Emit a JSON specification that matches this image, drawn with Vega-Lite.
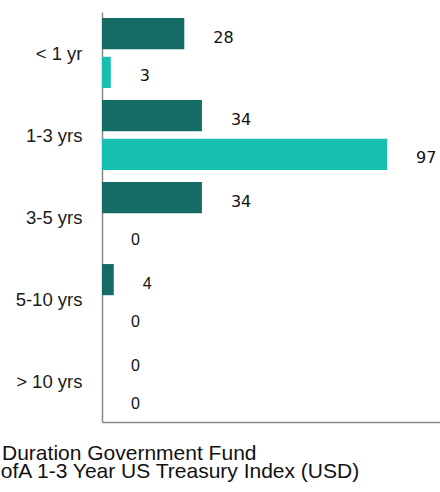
{
  "$schema": "https://vega.github.io/schema/vega-lite/v6.json",
  "autosize": {"type": "none"},
  "padding": {"left": 102, "top": 12, "right": 0, "bottom": 70},
  "width": 338,
  "height": 410,
  "background": "white",
  "config": {
    "view": {"stroke": null},
    "legend": {
      "title": null,
      "orient": "none",
      "padding": 0,
      "symbolType": "square",
      "symbolSize": 100,
      "labelOffset": 4,
      "labelFont": "Liberation Sans",
      "labelFontSize": 21,
      "labelColor": "#111111",
      "labelLimit": 0
    }
  },
  "data": {
    "values": [
      {"category": "< 1 yr", "series": "Short Duration Government Fund", "value": 28},
      {"category": "< 1 yr", "series": "ICE BofA 1-3 Year US Treasury Index (USD)", "value": 3},
      {"category": "1-3 yrs", "series": "Short Duration Government Fund", "value": 34},
      {"category": "1-3 yrs", "series": "ICE BofA 1-3 Year US Treasury Index (USD)", "value": 97},
      {"category": "3-5 yrs", "series": "Short Duration Government Fund", "value": 34},
      {"category": "3-5 yrs", "series": "ICE BofA 1-3 Year US Treasury Index (USD)", "value": 0},
      {"category": "5-10 yrs", "series": "Short Duration Government Fund", "value": 4},
      {"category": "5-10 yrs", "series": "ICE BofA 1-3 Year US Treasury Index (USD)", "value": 0},
      {"category": "> 10 yrs", "series": "Short Duration Government Fund", "value": 0},
      {"category": "> 10 yrs", "series": "ICE BofA 1-3 Year US Treasury Index (USD)", "value": 0}
    ]
  },
  "encoding": {
    "y": {
      "field": "category",
      "type": "nominal",
      "sort": ["< 1 yr", "1-3 yrs", "3-5 yrs", "5-10 yrs", "> 10 yrs"],
      "scale": {"paddingInner": 0, "paddingOuter": 0},
      "axis": {
        "title": null,
        "ticks": false,
        "labelPadding": 20,
        "labelFont": "Liberation Sans",
        "labelFontSize": 18.5,
        "labelColor": "#1a1a1a",
        "labelOffset": 1,
        "domainColor": "#888888",
        "domainWidth": 1.5
      }
    },
    "yOffset": {
      "field": "series",
      "type": "nominal",
      "sort": ["Short Duration Government Fund", "ICE BofA 1-3 Year US Treasury Index (USD)"],
      "scale": {"domain": ["Short Duration Government Fund", "ICE BofA 1-3 Year US Treasury Index (USD)"], "paddingInner": 0.195, "paddingOuter": 0.156}
    },
    "x": {
      "field": "value",
      "type": "quantitative",
      "scale": {"domain": [0, 115], "nice": false},
      "axis": {
        "title": null,
        "labels": false,
        "ticks": false,
        "grid": false,
        "domainColor": "#888888",
        "domainWidth": 1.5
      }
    }
  },
  "layer": [
    {
      "transform": [{"filter": "datum.series == 'Short Duration Government Fund'"}],
      "mark": {"type": "bar"},
      "encoding": {
        "color": {
          "field": "series",
          "type": "nominal",
          "scale": {"domain": ["Short Duration Government Fund"], "range": ["#146c64"]},
          "legend": {"legendX": -181, "legendY": 431.5}
        }
      }
    },
    {
      "transform": [{"filter": "datum.series == 'ICE BofA 1-3 Year US Treasury Index (USD)'"}],
      "mark": {"type": "bar"},
      "encoding": {
        "color": {
          "field": "series",
          "type": "nominal",
          "scale": {"domain": ["ICE BofA 1-3 Year US Treasury Index (USD)"], "range": ["#17bfb0"]},
          "legend": {"legendX": -181, "legendY": 449.5}
        }
      }
    },
    {
      "transform": [
        {"filter": "indexof(['< 1 yr', '1-3 yrs'], datum.category) >= 0 || (datum.category == '3-5 yrs' && datum.series == 'Short Duration Government Fund')"}
      ],
      "mark": {"type": "text", "align": "left", "baseline": "middle", "dx": 29, "dy": 4, "font": "DejaVu Sans", "fontSize": 16, "color": "#111111"},
      "encoding": {"text": {"field": "value", "type": "quantitative"}}
    },
    {
      "transform": [
        {"filter": "!(indexof(['< 1 yr', '1-3 yrs'], datum.category) >= 0 || (datum.category == '3-5 yrs' && datum.series == 'Short Duration Government Fund'))"}
      ],
      "mark": {"type": "text", "align": "left", "baseline": "middle", "dx": 29, "dy": 4, "font": "Liberation Sans", "fontSize": 16, "color": "#111111"},
      "encoding": {"text": {"field": "value", "type": "quantitative"}}
    }
  ],
  "resolve": {"scale": {"color": "independent"}, "legend": {"color": "independent"}}
}
